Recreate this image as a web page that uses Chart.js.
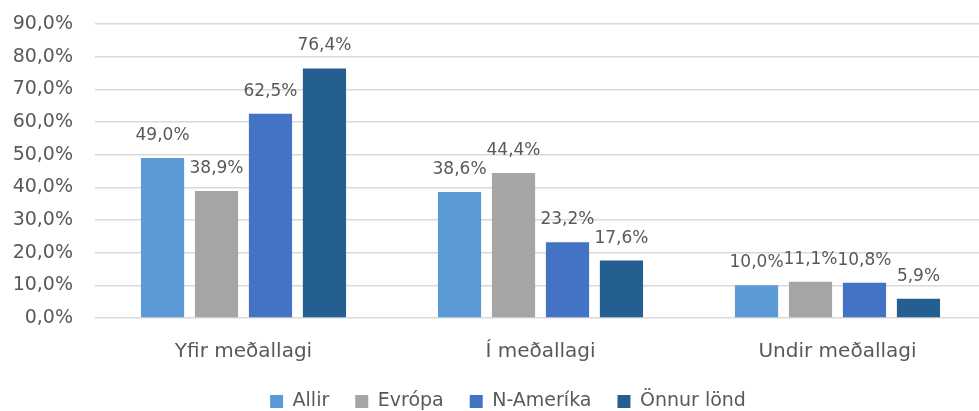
<!DOCTYPE html>
<html>
<head>
<meta charset="utf-8">
<script src="https://cdn.jsdelivr.net/npm/chart.js@4/dist/chart.umd.min.js"></script>
<style>
  html, body { margin: 0; padding: 0; background: #fff; overflow: hidden; }
  #wrap { position: relative; width: 1016px; height: 411px; }
</style>
</head>
<body>
<div id="wrap"><canvas id="chart"></canvas></div>
<script>
const categories = ['Yfir meðallagi', 'Í meðallagi', 'Undir meðallagi'];
const seriesNames = ['Allir', 'Evrópa', 'N-Ameríka', 'Önnur lönd'];
const allir = [49.0, 38.6, 10.0];
const evropa = [38.9, 44.4, 11.1];
const nAmerika = [62.5, 23.2, 10.8];
const onnurLond = [76.4, 17.6, 5.9];
const colors = ['#5B9BD5', '#A5A5A5', '#4472C4', '#255E91'];

const textColor = '#595959';
const fontFamily = '"DejaVu Sans", sans-serif';
const fontSize = 19;

function pct(v) {
    return v.toFixed(1).replace('.', ',') + '%';
}

// draws the value above each bar
const valueLabels = {
    id: 'valueLabels',
    afterDatasetsDraw(chart) {
        const ctx = chart.ctx;
        ctx.save();
        ctx.font = '17px ' + fontFamily;
        ctx.fillStyle = textColor;
        ctx.textAlign = 'center';
        ctx.textBaseline = 'alphabetic';
        chart.data.datasets.forEach((ds, i) => {
            chart.getDatasetMeta(i).data.forEach((bar, j) => {
                ctx.fillText(pct(ds.data[j]), bar.x, bar.y - 18);
            });
        });
        ctx.restore();
    }
};

// legend sits a bit right of the chart centre
const legendShift = {
    id: 'legendShift',
    afterLayout(chart) {
        chart.legend.left += 15;
        chart.legend.right += 15;
    }
};

const allSeries = [allir, evropa, nAmerika, onnurLond];

new Chart(document.getElementById('chart'), {
    type: 'bar',
    data: {
        labels: categories,
        datasets: allSeries.map((d, i) => ({
            label: seriesNames[i],
            data: d,
            backgroundColor: colors[i],
            categoryPercentage: 0.727,
            barPercentage: 0.8
        }))
    },
    options: {
        responsive: true,
        maintainAspectRatio: false,
        animation: false,
        layout: { padding: { left: 0, right: 30, top: 24, bottom: -10 } },
        scales: {
            x: {
                grid: { display: false, drawTicks: false },
                border: { display: false },
                ticks: { color: textColor, font: { family: fontFamily, size: 20 }, padding: 22 },
                afterFit(scale) { scale.height = 48; }
            },
            y: {
                min: 0,
                max: 90,
                ticks: {
                    stepSize: 10,
                    color: textColor,
                    font: { family: fontFamily, size: fontSize },
                    padding: 22,
                    callback: v => pct(v)
                },
                grid: { color: '#D9D9D9', lineWidth: 1.5, drawTicks: false },
                border: { display: false },
                afterFit(scale) {
                    scale.width = 95;
                    scale.paddingTop = 0;
                    scale.paddingBottom = 0;
                }
            }
        },
        plugins: {
            legend: {
                position: 'bottom',
                labels: {
                    color: textColor,
                    font: { family: fontFamily, size: fontSize },
                    boxWidth: 13,
                    boxHeight: 13,
                    padding: 26
                }
            },
            tooltip: { enabled: false }
        }
    },
    plugins: [valueLabels, legendShift]
});
</script>
</body>
</html>
